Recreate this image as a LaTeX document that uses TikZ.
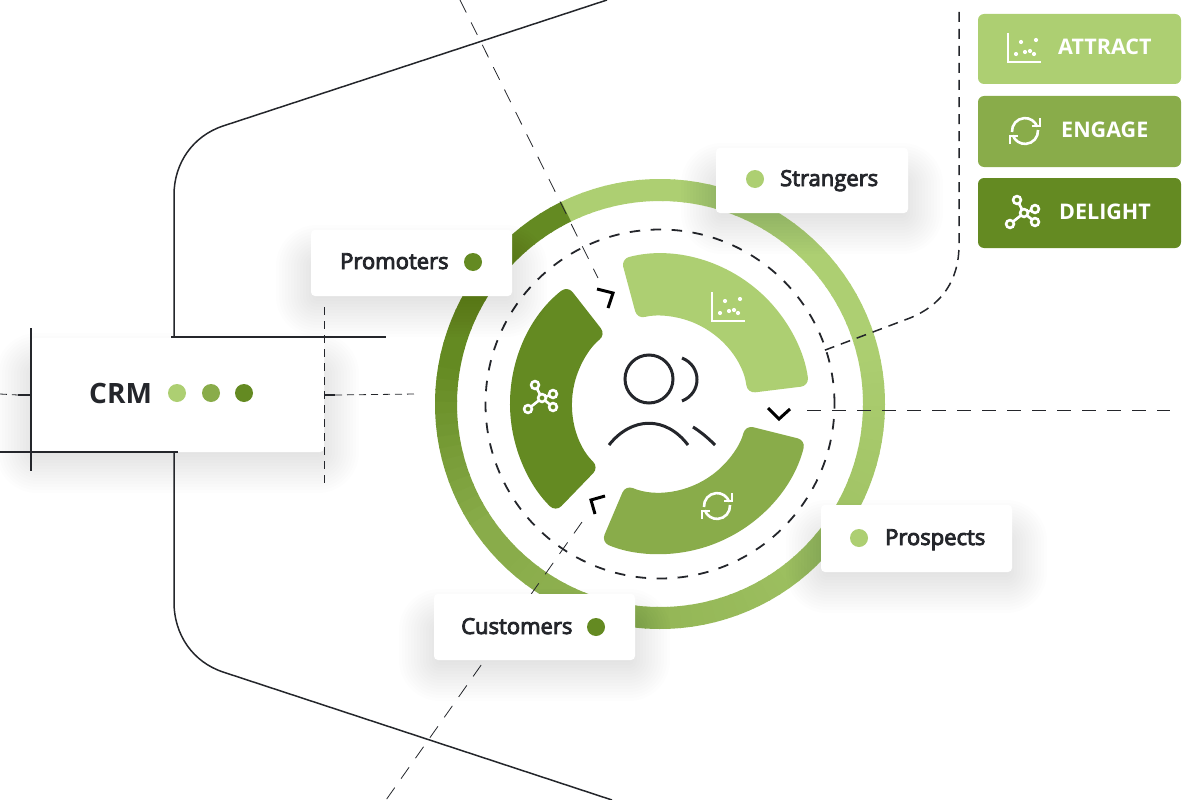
\documentclass[tikz,border=0pt]{standalone}
\usepackage{fontspec}
\setmainfont{Open Sans}[FakeBold=4]
\newfontfamily\legendfont{Open Sans}
\usetikzlibrary{calc}
\definecolor{greenlite}{HTML}{ADCF72}
\definecolor{greenmid}{HTML}{89AC4A}
\definecolor{greendark}{HTML}{648A22}
\definecolor{inkdark}{HTML}{24262B}
\newcommand{\cardshadow}[4]{%
  \foreach \s in {2,5,...,41}{
    \fill[black,opacity=.0065,rounded corners=\s pt] (#1-\s,#2+\s) rectangle (#3+\s,#4-\s);
  }}
\tikzset{
  card/.style={rectangle, fill=white, rounded corners=4pt, inner sep=0pt},
  legendbox/.style={rectangle, rounded corners=6pt, inner sep=0pt, minimum width=203pt},
  blob/.style={circle, fill=#1, inner sep=0pt, minimum size=18pt},
  cardtext/.style={anchor=base west, inner sep=0pt, text=inkdark, font=\fontsize{22}{24}\selectfont},
  legendtext/.style={anchor=base west, inner sep=0pt, text=white, font=\legendfont\bfseries\fontsize{21.5}{24}\selectfont},
  solidline/.style={draw=inkdark, line width=1.5pt},
  longdash/.style={draw=inkdark, line width=.8pt, dash pattern=on 14pt off 11pt},
  chartico/.pic={
    \draw[white, line width=2.2pt] (0,29) -- (0,0) -- (33,0);
    \foreach \dx/\dy in {13/20,28/22,22/11,8/8,17/10,26/8}
      \fill[white] (\dx,\dy) circle (2.1);
  },
  syncico/.pic={
    \draw[white, line width=2.6pt] (-13,-1) arc (184:20:13);
    \draw[white, line width=2.6pt] (13,1) arc (4:-160:13);
    \draw[white, line width=2.6pt] (15,13) -- (15,5) -- (7,5);
    \draw[white, line width=2.6pt] (-15,-13) -- (-15,-5) -- (-7,-5);
  },
  hubico/.pic={
    \foreach \dx/\dy in {-7/13,11/4,11/-9,-14/-11}{
      \draw[white, line width=2.6pt] (\dx,\dy) circle (3.9);
      \draw[white, line width=2.6pt, shorten <=4.5pt, shorten >=4.5pt] (0,0) -- (\dx,\dy);
    }
    \draw[white, line width=2.6pt] (0,0) circle (3.9);
  }
}
\begin{document}
\begin{tikzpicture}[x=1pt, y=1pt]
  \useasboundingbox (0,0) rectangle (1200,-800);
  \coordinate (hub) at (660,-404);

  % outer ring
  \begin{scope}[shift={(hub)}]
    \foreach \a in {116,113,...,-241}{
      \pgfmathtruncatemacro\mixa{max(0,min(100,(\a+135)/155*100))}
      \pgfmathtruncatemacro\mixb{max(0,min(100,(\a+190)/45*100))}
      \colorlet{ringcol}{greenmid!\mixb!greendark}
      \draw[draw=greenlite!\mixa!ringcol, line width=22pt] (\a+.4:214) arc (\a+.4:\a-3:214);
    }
    % three arc blocks
    \fill[greenlite, rounded corners=8pt] (105:150) arc (105:7:150) -- (7:88) arc (7:105:88) -- cycle;
    \fill[greenmid, rounded corners=8pt] (-14:150) arc (-14:-113:150) -- (-113:88) arc (-113:-14:88) -- cycle;
    \fill[greendark, rounded corners=8pt] (128:150) arc (128:226:150) -- (226:88) arc (226:128:88) -- cycle;
    \draw[inkdark, line width=1.8pt, dash pattern=on 10.5pt off 10.5pt] (0,0) circle (174.5);
  \end{scope}

  % person
  \node[circle, draw=inkdark, line width=3pt, inner sep=0pt, minimum size=48pt] (head) at (649,-379) {};
  \coordinate (backtop) at (682,-358);
  \coordinate (backlow) at (682,-401);
  \coordinate (shldl) at (609,-445);
  \coordinate (shldr) at (688,-445);
  \coordinate (backl) at (693,-427);
  \coordinate (backr) at (715,-445);
  \draw[inkdark, line width=3pt] (backtop) .. controls (702,-366) and (702,-393) .. (backlow);
  \draw[inkdark, line width=3pt] (shldl) .. controls (632,-416) and (666,-416) .. (shldr);
  \draw[inkdark, line width=3pt] (backl) .. controls (701,-432) and (708,-438) .. (backr);

  % wheel icons
  \pic at (712,-321) {chartico};
  \pic at (717,-506) {syncico};
  \pic at (542,-398) {hubico};

  % chevrons
  \draw[black, line width=3pt] (597,-289) -- (613,-293) -- (608,-308);
  \draw[black, line width=3pt] (768,-408) -- (779,-419) -- (790,-409);
  \draw[black, line width=3pt] (605,-496) -- (591,-500) -- (595,-514);

  % dashed spokes
  \coordinate (spokeat) at (460,0);
  \coordinate (spokeab) at (598,-278);
  \coordinate (spokebt) at (807,-410);
  \coordinate (spokebb) at (1170,-410);
  \coordinate (spokect) at (582,-522);
  \coordinate (spokecb) at (386,-800);
  \draw[longdash] (spokeat) -- (spokeab);
  \draw[longdash] (spokebt) -- (spokebb);
  \draw[longdash] (spokect) -- (spokecb);

  % soft shadows
  \cardshadow{722}{-184}{902}{-213}
  \cardshadow{317}{-266}{506}{-296}
  \cardshadow{827}{-541}{1006}{-572}
  \cardshadow{440}{-630}{629}{-660}
  \cardshadow{37}{-374}{318}{-452}

  % cards
  \node[card, minimum width=192pt, minimum height=65pt] (strangers) at (812,-180.5) {};
  \node[card, minimum width=201pt, minimum height=66pt] (promoters) at (411.5,-263) {};
  \node[card, minimum width=191pt, minimum height=67pt] (prospects) at (916.5,-538.5) {};
  \node[card, minimum width=201pt, minimum height=66pt] (customers) at (534.5,-627) {};
  \node[card, minimum width=293pt, minimum height=114pt] (crm) at (177.5,-395) {};

  \node[cardtext] (strangerslabel) at (780,-186) {Strangers};
  \node[blob=greenlite] (strangersdot) at (755,-179) {};
  \node[cardtext] (promoterslabel) at (340,-269) {Promoters};
  \node[blob=greendark] (promotersdot) at (473,-262) {};
  \node[cardtext] (prospectslabel) at (885,-545) {Prospects};
  \node[blob=greenlite] (prospectsdot) at (859,-538) {};
  \node[cardtext] (customerslabel) at (461,-634) {Customers};
  \node[blob=greendark] (customersdot) at (596,-627) {};
  \node[cardtext, font=\legendfont\bfseries\fontsize{28}{34}\selectfont] (crmlabel) at (89,-403) {CRM};
  \node[blob=greenlite] (crmdota) at (177,-393) {};
  \node[blob=greenmid] (crmdotb) at (211,-393) {};
  \node[blob=greendark] (crmdotc) at (244,-393) {};

  % funnel outline
  \coordinate (funneltop) at (607,0);
  \coordinate (funnelbot) at (612,-800);
  \coordinate (crmedgea) at (174,-337);
  \coordinate (crmedgeb) at (174,-452);
  \draw[solidline] (funneltop) -- (223,-126) .. controls (193,-136) and (174,-163) .. (174,-195) -- (crmedgea);
  \draw[solidline] (crmedgeb) -- (174,-602) .. controls (174,-635) and (193,-662) .. (223,-672) -- (funnelbot);
  \coordinate (lidl) at (171,-337);
  \coordinate (lidm) at (363,-337);
  \coordinate (lidr) at (386,-337);
  \draw[draw=inkdark, line width=2pt] (lidl) -- (lidm);
  \draw[solidline] (lidm) -- (lidr);
  \coordinate (basel) at (0,-452);
  \coordinate (baser) at (178,-452);
  \draw[solidline] (basel) -- (baser);
  \coordinate (postt) at (31,-328);
  \coordinate (postb) at (31,-471);
  \draw[solidline] (postt) -- (postb);

  % crm dashes
  \coordinate (cutt) at (324,-307);
  \coordinate (cutb) at (324,-483);
  \coordinate (tickl) at (0,-394);
  \coordinate (tickla) at (18,-395);
  \coordinate (ticklb) at (31,-395);
  \coordinate (tickra) at (324,-395);
  \coordinate (tickrb) at (335,-395);
  \coordinate (tickr) at (416,-394);
  \draw[draw=inkdark, line width=.8pt, dash pattern=on 8pt off 6pt] (cutt) -- (cutb);
  \draw[draw=inkdark, line width=.8pt, dash pattern=on 7pt off 5pt] (tickl) -- (tickla);
  \draw[draw=inkdark, line width=.8pt, dash pattern=on 7pt off 5pt] (tickrb) -- (tickr);
  \draw[draw=inkdark, line width=1.8pt] (tickla) -- (ticklb);
  \draw[draw=inkdark, line width=1.8pt] (tickra) -- (tickrb);

  % legend lead
  \coordinate (leadtop) at (959,-12);
  \coordinate (leadend) at (820,-352);
  \draw[inkdark, line width=1.5pt, dash pattern=on 10pt off 7pt] (leadtop) -- (959,-245) .. controls (959,-280) and (942,-305) .. (910,-318) -- (leadend);

  % legend
  \node[legendbox, fill=greenlite, minimum height=70pt] (attract) at (1079.5,-49) {};
  \node[legendbox, fill=greenmid, minimum height=71pt] (engage) at (1079.5,-131.5) {};
  \node[legendbox, fill=greendark, minimum height=70pt] (delight) at (1079.5,-213) {};
  \node[legendtext] (attractlabel) at (1058,-55) {ATTRACT};
  \node[legendtext] (engagelabel) at (1061,-137) {ENGAGE};
  \node[legendtext] (delightlabel) at (1059,-219) {DELIGHT};
  \pic at (1008,-62) {chartico};
  \pic at (1025,-131) {syncico};
  \pic at (1024,-213) {hubico};
\end{tikzpicture}
\end{document}
